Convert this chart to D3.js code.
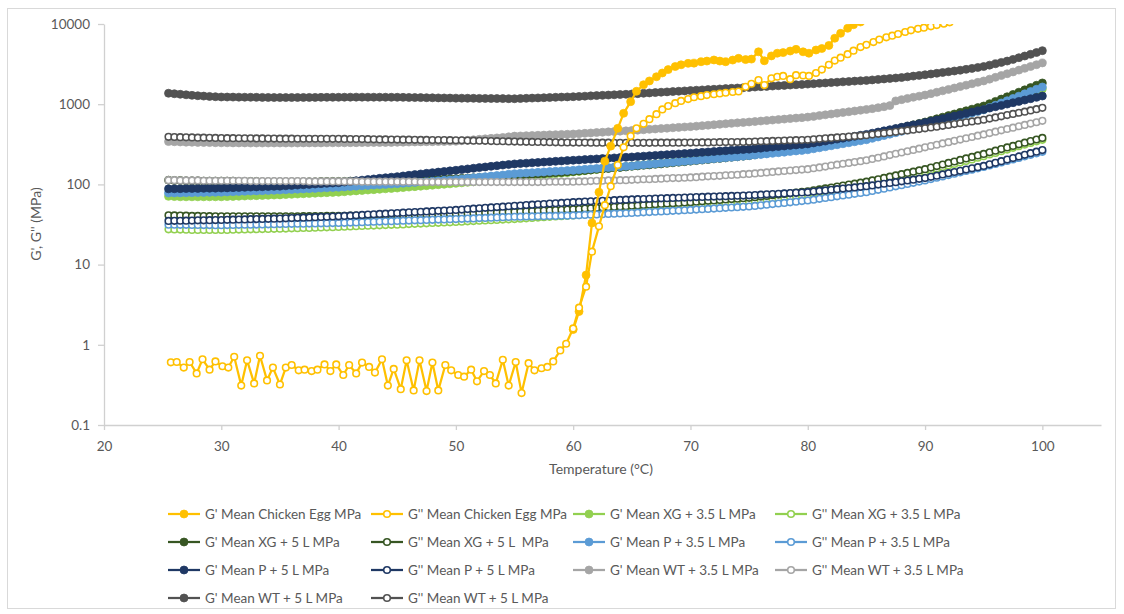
<!DOCTYPE html>
<html>
<head>
<meta charset="utf-8">
<script src="https://cdn.jsdelivr.net/npm/d3@7"></script>
<style>
  body { margin: 0; background: #fff; }
  svg { font-family: Lato, "Open Sans", sans-serif; }
  text { white-space: pre; }
</style>
</head>
<body>
<svg id="chart" width="1124" height="614"></svg>
<script>
// temperatures (°C) for the XG / P / WT runs
const temp = [
  25.5,26,26.5,27,27.5,28,28.5,29,29.5,30,
  30.5,31,31.5,32,32.5,33,33.5,34,34.5,35,
  35.5,36,36.5,37,37.5,38,38.5,39,39.5,40,
  40.5,41,41.5,42,42.5,43,43.5,44,44.5,45,
  45.5,46,46.5,47,47.5,48,48.5,49,49.5,50,
  50.5,51,51.5,52,52.5,53,53.5,54,54.5,55,
  55.5,56,56.5,57,57.5,58,58.5,59,59.5,60,
  60.5,61,61.5,62,62.5,63,63.5,64,64.5,65,
  65.5,66,66.5,67,67.5,68,68.5,69,69.5,70,
  70.5,71,71.5,72,72.5,73,73.5,74,74.5,75,
  75.5,76,76.5,77,77.5,78,78.5,79,79.5,80,
  80.5,81,81.5,82,82.5,83,83.5,84,84.5,85,
  85.5,86,86.5,87,87.5,88,88.5,89,89.5,90,
  90.5,91,91.5,92,92.5,93,93.5,94,94.5,95,
  95.5,96,96.5,97,97.5,98,98.5,99,99.5,100
];

// temperatures (°C) for the chicken egg run
const eggTemp = [
  25.7,26.2,26.8,27.3,27.9,28.4,29.0,29.5,30.1,30.6,
  31.1,31.7,32.2,32.8,33.3,33.9,34.4,35.0,35.5,36.0,
  36.6,37.1,37.7,38.2,38.8,39.3,39.8,40.4,40.9,41.5,
  42.0,42.6,43.1,43.7,44.2,44.7,45.3,45.8,46.4,46.9,
  47.5,48.0,48.5,49.1,49.6,50.2,50.7,51.3,51.8,52.4,
  52.9,53.4,54.0,54.5,55.1,55.6,56.2,56.7,57.3,57.8,
  58.3,58.9,59.4,60.0,60.5,61.1,61.6,62.2,62.7,63.2,
  63.8,64.3,64.9,65.4,66.0,66.5,67.1,67.6,68.1,68.7,
  69.2,69.8,70.3,70.9,71.4,72.0,72.5,73.0,73.6,74.1,
  74.7,75.2,75.8,76.3,76.9,77.4,77.9,78.5,79.0,79.6,
  80.1,80.7,81.2,81.8,82.3,82.8,83.4,83.9,84.5,85.0,
  85.6,86.1,86.7,87.2,87.7,88.3,88.8,89.4,89.9,90.5,
  91.0,91.6,92.1
];

const eggGp = [
  null,null,null,null,null,null,null,null,null,null,
  null,null,null,null,null,null,null,null,null,null,
  null,null,null,null,null,null,null,null,null,null,
  null,null,null,null,null,null,null,null,null,null,
  null,null,null,null,null,null,null,null,null,null,
  null,null,null,null,null,null,null,null,null,null,
  null,null,null,1.55,2.6,7.4,33,80,195,300,
  500,770,1075,1450,1750,1950,2200,2450,2700,2950,
  3100,3230,3250,3380,3450,3560,3450,3380,3550,3730,
  3600,3650,4500,3480,4000,4320,4400,4600,4830,4500,
  4320,4740,4950,5400,6640,7650,8840,9800,10600,null,
  null,null,null,null,null,null,null,null,null,null,
  null,null,null
];

const eggGpp = [
  0.605,0.61,0.52,0.61,0.44,0.66,0.49,0.62,0.54,0.52,
  0.71,0.31,0.64,0.33,0.73,0.36,0.52,0.32,0.52,0.56,
  0.48,0.49,0.47,0.49,0.57,0.47,0.57,0.42,0.56,0.44,
  0.6,0.53,0.45,0.66,0.31,0.5,0.28,0.64,0.27,0.64,
  0.265,0.6,0.27,0.56,0.48,0.42,0.4,0.49,0.35,0.47,
  0.42,0.33,0.65,0.31,0.61,0.25,0.59,0.48,0.51,0.53,
  0.62,0.85,1.03,1.6,2.9,5.3,14.5,30,55,95,
  175,290,400,500,570,650,750,860,950,1030,
  1100,1160,1220,1260,1300,1330,1360,1390,1420,1440,
  1650,1800,2000,1730,2100,2200,2250,2050,2300,2280,
  2250,2450,2700,3100,3500,3800,4200,4650,5150,5500,
  5950,6400,6820,7150,7500,7950,8350,8700,9000,9350,
  9700,10100,10500
];

const xg35Gp = [
  71,70.5,70,70,70,70,70,70,70,70,
  70.4,70.8,71.2,71.6,72,72.4,72.8,73.2,73.6,74,
  74.6,75.2,75.8,76.4,77,77.6,78.2,78.8,79.4,80,
  81,82,83,84,85,86,87,88,89,90,
  91.2,92.5,93.8,95,96.3,97.6,99,100.3,101.6,103,
  104.6,106.2,107.8,109.5,111,112.8,114.5,116.2,118,120,
  122,124,126,129,131,133,136,138,140,143,
  145,148,151,153,156,159,162,164,167,170,
  173,176,178,181,184,187,190,193,197,200,
  203,207,210,213,217,220,224,228,231,235,
  240,245,250,256,261,267,273,278,284,290,
  298,307,315,324,333,342,351,361,375,390,
  405,420,436,453,470,488,506,525,542,560,
  585,610,637,665,694,725,757,790,825,860,
  910,965,1020,1080,1145,1210,1280,1360,1450,1550
];

const xg35Gpp = [
  27.5,27.4,27.3,27.2,27.1,27,27,27,27,27,
  27.1,27.2,27.3,27.4,27.5,27.6,27.7,27.8,27.9,28,
  28.1,28.3,28.4,28.6,28.7,28.9,29,29.2,29.3,29.5,
  29.7,29.9,30.1,30.3,30.5,30.7,30.9,31.1,31.3,31.5,
  31.7,32,32.2,32.5,32.7,33,33.2,33.5,33.7,34,
  34.3,34.6,34.9,35.2,35.5,35.8,36.1,36.4,36.7,37,
  37.4,37.8,38.2,38.6,39,39.4,39.8,40.2,40.6,41,
  41.5,42,42.5,43,43.5,44,44.5,45,45.5,46,
  46.6,47.2,47.8,48.4,49,49.6,50.2,50.8,51.4,52,
  52.8,53.6,54.4,55.2,56,56.8,57.6,58.4,59.2,60,
  61.3,62.6,64,65.4,66.9,68.4,70,71.6,73.3,75,
  77.3,79.7,82.1,84.6,87.2,89.9,92.7,95.6,98.7,102,
  105.5,109,112.7,116.5,120.5,124.6,128.8,133.2,139,145,
  151,158,165,172,180,188,196,205,215,225,
  236,247,259,272,286,300,314,329,344,360
];

const xg5Gp = [
  113,112,112,111,111,111,110,110,110,110,
  110,110,109,109,109,109,108,108,108,108,
  108,108,108,108,108,108,109,109,109,109,
  109,110,110,110,111,111,111,111,112,112,
  113,113,114,114,115,115,116,117,117,118,
  119,120,121,122,123,124,125,126,127,128,
  130,131,133,135,136,138,140,141,143,145,
  147,149,151,154,156,158,161,163,165,168,
  170,173,175,178,180,183,186,189,192,195,
  198,201,204,208,211,214,218,221,225,228,
  234,240,246,252,258,264,270,277,283,290,
  300,310,320,330,341,352,363,375,387,400,
  417,434,452,470,490,510,531,553,576,600,
  628,658,689,721,755,791,828,867,907,950,
  1015,1084,1158,1238,1322,1413,1509,1612,1723,1840
];

const xg5Gpp = [
  41.2,41,40.9,40.7,40.5,40.4,40.3,40.2,40.1,40,
  40,40,40,40,40,40,40,40,40,40,
  40,40.1,40.1,40.2,40.2,40.3,40.3,40.4,40.4,40.5,
  40.6,40.7,40.8,40.9,41,41.1,41.2,41.3,41.4,41.5,
  41.6,41.8,41.9,42.1,42.2,42.4,42.5,42.7,42.8,43,
  43.2,43.5,43.7,44,44.2,44.5,44.7,45,45.2,45.5,
  45.8,46.2,46.5,46.9,47.2,47.6,47.9,48.3,48.6,49,
  49.5,50,50.5,51,51.5,52,52.5,53,53.5,54,
  54.6,55.2,55.8,56.4,57,57.6,58.2,58.8,59.4,60,
  60.8,61.6,62.4,63.2,64,64.8,65.6,66.4,67.2,68,
  69.3,70.6,71.9,73.3,74.7,76.1,77.5,79,80.5,82,
  84.3,86.6,89,91.5,94.1,96.7,99.4,102.2,105,108,
  112,116,120.4,124.8,129.4,134.2,139.1,144.2,149.5,155,
  162,169,177,185,193,202,211,220,230,240,
  251,263,276,289,302,316,331,347,363,380
];

const p35Gp = [
  78,78.2,78.4,78.7,78.9,79.1,79.3,79.6,79.8,80,
  80.5,81,81.5,82,82.5,83,83.5,84,84.5,85,
  85.7,86.4,87.1,87.8,88.5,89.2,89.9,90.6,91.3,92,
  93,94,95,96,97,98,99,100,101,102,
  103.3,104.6,105.9,107.2,108.5,109.8,111.1,112.4,113.7,115,
  117,119,121,123,125,127,129,131,134,136,
  137.4,138.8,140.2,141.6,143,144.4,145.8,147.2,148.6,150,
  152,154,156,158,160,162,164,166,168,170,
  172.7,175.4,178.1,180.8,183.5,186.2,188.9,191.6,194.3,197,
  200,203,206,209,212,215,218,221,225,228,
  232,236,240,244,248,252,257,261,265,270,
  278,286,294,303,312,321,330,340,350,360,
  375,390,406,423,441,459,478,497,518,540,
  565,591,619,647,677,709,742,776,812,850,
  908,969,1035,1105,1180,1260,1346,1437,1535,1640
];

const p35Gpp = [
  31.5,31.4,31.3,31.3,31.2,31.2,31.1,31.1,31,31,
  31.1,31.2,31.3,31.4,31.5,31.6,31.7,31.8,31.9,32,
  32.1,32.2,32.3,32.4,32.5,32.6,32.7,32.8,32.9,33,
  33.2,33.4,33.6,33.8,34,34.2,34.4,34.6,34.8,35,
  35.2,35.4,35.6,35.8,36,36.2,36.4,36.6,36.8,37,
  37.2,37.5,37.7,38,38.2,38.5,38.7,39,39.2,39.5,
  39.6,39.8,39.9,40.1,40.2,40.4,40.5,40.7,40.8,41,
  41.3,41.6,41.9,42.2,42.5,42.8,43.1,43.4,43.7,44,
  44.4,44.8,45.2,45.6,46,46.4,46.8,47.2,47.6,48,
  48.5,49,49.5,50,50.5,51,51.5,52,52.5,53,
  53.9,54.9,55.8,56.8,57.8,58.8,59.8,60.9,61.9,63,
  64.5,66.1,67.7,69.3,71,72.7,74.5,76.3,78.1,80,
  82.7,85.6,88.5,91.5,94.6,97.9,101.2,104.7,108.3,112,
  116.4,121,125.8,130.8,136,141.3,146.9,152.7,158.7,165,
  172,180,188,196,205,214,224,234,244,255
];

const p5Gp = [
  88,88.2,88.4,88.7,88.9,89.1,89.3,89.6,89.8,90,
  90.5,91,91.5,92,92.5,93,93.5,94,94.5,95,
  96,97,98,99,100,101,102,103,104,105,
  107,109,111,113,115,117,119,121,123,125,
  127.5,130,132.5,135,137.5,140,142.5,145,147.5,150,
  153,156,159,162,165,168,171,174,177,180,
  182,184,186,188,190,192,194,196,198,200,
  202,204,206,208,210,212,214,216,218,220,
  222.5,225,227.5,230,232.5,235,237.5,240,242.5,245,
  248,251,254,257,260,263,266,269,272,275,
  279,283,288,292,297,301,306,310,315,320,
  329,338,347,357,367,377,387,398,409,420,
  435,450,465,481,498,515,533,551,570,590,
  613,636,660,686,712,739,768,797,828,860,
  894,929,965,1003,1043,1084,1126,1171,1217,1265
];

const p5Gpp = [
  35,35.1,35.2,35.3,35.4,35.6,35.7,35.8,35.9,36,
  36.2,36.3,36.5,36.6,36.8,36.9,37.1,37.2,37.4,37.5,
  37.8,38,38.3,38.5,38.8,39,39.3,39.5,39.8,40,
  40.4,40.8,41.2,41.6,42,42.4,42.8,43.2,43.6,44,
  44.4,44.8,45.2,45.6,46,46.4,46.8,47.2,47.6,48,
  48.6,49.2,49.8,50.4,51,51.6,52.2,52.8,53.4,54,
  54.6,55.2,55.8,56.4,57,57.6,58.2,58.8,59.4,60,
  60.5,61,61.5,62,62.5,63,63.5,64,64.5,65,
  65.4,65.8,66.2,66.6,67,67.4,67.8,68.2,68.6,69,
  69.4,69.8,70.2,70.6,71,71.4,71.8,72.2,72.6,73,
  73.7,74.4,75.1,75.8,76.5,77.2,77.9,78.6,79.3,80,
  81.4,82.8,84.2,85.7,87.2,88.7,90.2,91.8,93.4,95,
  97.2,99.5,101.9,104.3,106.7,109.2,111.8,114.5,117.2,120,
  124.2,128.6,133.2,137.9,142.8,147.8,153,158.5,164.1,170,
  178,186,195,204,213,223,234,245,256,268
];

const wt35Gp = [
  342,340,338,336,335,334,333,332,331,330,
  330,329,329,329,328,328,328,328,328,328,
  328,328,328,329,329,329,329,330,330,330,
  330,331,331,332,332,333,333,334,334,335,
  336,337,338,339,340,341,342,343,344,345,
  350,355,360,365,370,375,380,385,392,400,
  402,405,407,410,412,415,417,420,422,425,
  429,434,438,443,447,452,456,461,465,470,
  475,480,486,491,497,502,508,514,520,525,
  532,540,547,555,562,570,577,585,592,600,
  608,617,625,634,643,652,661,671,680,690,
  705,721,737,754,771,788,805,823,841,860,
  880,905,930,960,1100,1140,1180,1220,1260,1300,
  1354,1410,1468,1529,1592,1658,1727,1798,1873,1950,
  2054,2163,2278,2398,2526,2660,2801,2950,3106,3270
];

const wt35Gpp = [
  113,113,112,112,112,112,111,111,111,111,
  111,111,111,111,110,110,110,110,110,110,
  110,110,110,110,109,109,109,109,109,109,
  109,109,109,108,108,108,108,108,108,108,
  108,108,108,107,107,107,107,107,107,107,
  107,107,107,107,107,107,107,107,107,107,
  107,107,107,107,107,108,108,108,108,108,
  109,109,110,111,111,112,112,113,113,114,
  115,116,116,117,118,119,120,120,121,122,
  123,125,126,127,128,130,131,132,134,135,
  137,139,141,143,145,147,149,151,153,155,
  159,163,167,172,176,181,185,190,195,200,
  208,215,223,232,241,250,259,269,279,290,
  301,312,324,336,349,362,376,390,405,420,
  437,454,472,491,510,531,552,574,596,620
];

const wt5Gp = [
  1370,1350,1330,1310,1290,1275,1262,1250,1240,1230,
  1228,1226,1224,1222,1220,1218,1216,1214,1212,1210,
  1211,1212,1213,1214,1215,1216,1217,1218,1219,1220,
  1222,1224,1225,1224,1223,1222,1222,1221,1220,1220,
  1217,1214,1211,1208,1205,1202,1199,1196,1193,1190,
  1188,1186,1184,1182,1180,1178,1176,1174,1172,1170,
  1177,1184,1191,1198,1205,1212,1219,1226,1233,1240,
  1250,1260,1270,1280,1290,1300,1310,1320,1330,1340,
  1354,1368,1382,1396,1410,1424,1438,1452,1466,1480,
  1494,1508,1522,1536,1550,1564,1578,1592,1606,1620,
  1636,1652,1668,1684,1700,1716,1732,1748,1764,1780,
  1800,1820,1840,1860,1880,1900,1920,1940,1960,1980,
  2008,2036,2064,2093,2121,2150,2195,2240,2285,2330,
  2380,2430,2485,2540,2595,2650,2720,2795,2870,2950,
  3070,3190,3320,3450,3620,3800,3990,4190,4410,4650
];

const wt5Gpp = [
  392,390,388,386,385,383,382,381,380,378,
  377,377,376,376,375,374,374,373,373,372,
  372,372,371,371,371,371,371,370,370,370,
  369,368,368,367,366,365,364,364,363,362,
  361,361,360,359,359,358,357,357,356,355,
  354,352,351,350,349,347,346,345,343,342,
  341,340,339,338,337,336,335,334,333,332,
  332,332,331,331,331,331,330,330,330,330,
  330,330,330,331,331,331,331,331,332,332,
  333,334,334,335,336,337,337,338,339,340,
  342,344,346,348,350,352,354,356,358,360,
  365,370,375,380,385,390,395,400,405,410,
  418,427,435,444,453,462,471,481,490,500,
  513,525,538,552,565,580,594,609,624,640,
  662,684,707,731,756,782,808,836,867,900
];

const seriesNames = [
  "G' Mean Chicken Egg MPa", "G'' Mean Chicken Egg MPa",
  "G' Mean XG + 3.5 L MPa", "G'' Mean XG + 3.5 L MPa",
  "G' Mean XG + 5 L MPa", "G'' Mean XG + 5 L  MPa",
  "G' Mean P + 3.5 L MPa", "G'' Mean P + 3.5 L MPa",
  "G' Mean P + 5 L MPa", "G'' Mean P + 5 L MPa",
  "G' Mean WT + 3.5 L MPa", "G'' Mean WT + 3.5 L MPa",
  "G' Mean WT + 5 L MPa", "G'' Mean WT + 5 L MPa"
];
const seriesValues = [eggGp, eggGpp, xg35Gp, xg35Gpp, xg5Gp, xg5Gpp, p35Gp, p35Gpp,
                      p5Gp, p5Gpp, wt35Gp, wt35Gpp, wt5Gp, wt5Gpp];
const seriesTemps = [eggTemp, eggTemp, temp, temp, temp, temp, temp, temp,
                     temp, temp, temp, temp, temp, temp];
const xTicks = [20, 30, 40, 50, 60, 70, 80, 90, 100];
const yTicks = [0.1, 1, 10, 100, 1000, 10000];

// styling
const colors = ['#FFC000','#FFC000','#92D050','#92D050','#375623','#375623','#5B9BD5','#5B9BD5',
                '#1F3864','#1F3864','#A5A5A5','#A5A5A5','#525252','#525252'];
const textColor = '#595959';
const axisColor = '#D0D0D0';

const series = seriesNames.map((name, i) => ({
  name,
  color: colors[i],
  filled: i % 2 === 0,
  points: seriesTemps[i].map((t, j) => ({ t, v: seriesValues[i][j] }))
}));

// marker look: filled for G', white-centred ring for G''
const marker = sel => sel
  .attr('r', d => 0)
  .each(function () {
    const s = d3.select(this.parentNode).datum();
    d3.select(this)
      .attr('r', s.filled ? 4 : 3.3)
      .attr('fill', s.filled ? s.color : '#fff')
      .attr('stroke', s.color)
      .attr('stroke-width', s.filled ? 0.75 : 1.6);
  });

const svg = d3.select('#chart');

// outer frame
svg.append('rect')
  .attr('x', 7.5).attr('y', 8.5)
  .attr('width', 1108).attr('height', 600)
  .attr('fill', 'none').attr('stroke', '#D9D9D9');

const x = d3.scaleLinear().domain([20, 105]).range([104, 1101]);
const y = d3.scaleLog().domain([0.1, 10000]).range([425, 24]);

// axes
const xAxis = svg.append('g')
  .attr('transform', 'translate(0,425)')
  .call(d3.axisBottom(x).tickValues(xTicks).tickSize(5).tickSizeOuter(0).tickPadding(11));
const yAxis = svg.append('g')
  .attr('transform', 'translate(104,0)')
  .call(d3.axisLeft(y).tickValues(yTicks).tickFormat(d => String(d)).tickSize(6).tickSizeOuter(0).tickPadding(8));

[xAxis, yAxis].forEach(a => {
  a.select('.domain').attr('stroke', axisColor).attr('stroke-width', 1.3);
  a.selectAll('.tick line').attr('stroke', axisColor).attr('stroke-width', 1.3);
  a.selectAll('.tick text')
    .attr('fill', textColor)
    .style('font-size', '13.5px')
    .style('font-family', 'Lato, "Open Sans", sans-serif');
});

// axis titles
svg.append('text')
  .attr('x', 601).attr('y', 474)
  .attr('text-anchor', 'middle')
  .attr('fill', textColor)
  .style('font-size', '14px')
  .text('Temperature (°C)');

svg.append('text')
  .attr('transform', 'translate(41,224) rotate(-90)')
  .attr('text-anchor', 'middle')
  .attr('fill', textColor)
  .style('font-size', '14px')
  .text("G', G'' (MPa)");

// plot area clip
svg.append('clipPath').attr('id', 'plotClip')
  .append('rect').attr('x', 96).attr('y', 24).attr('width', 1015).attr('height', 410);

const line = d3.line()
  .defined(d => d.v != null)
  .x(d => x(d.t))
  .y(d => y(d.v));

const plot = svg.append('g').attr('clip-path', 'url(#plotClip)');

// egg series are drawn last so they sit on top
const drawOrder = series.slice(2).concat(series.slice(0, 2));

drawOrder.forEach(s => {
  const g = plot.append('g').datum(s);
  g.append('path')
    .attr('d', line(s.points))
    .attr('fill', 'none')
    .attr('stroke', s.color)
    .attr('stroke-width', 2.25)
    .attr('stroke-linejoin', 'round');
  g.selectAll('circle')
    .data(s.points.filter(d => d.v != null))
    .enter()
    .append('circle')
    .attr('cx', d => x(d.t))
    .attr('cy', d => y(d.v))
    .call(marker);
});

// legend
const legendCols = [168, 371, 573, 775];
const legendRows = [514, 542, 570, 598];

const legend = svg.append('g');
series.forEach((s, i) => {
  const lx = legendCols[i % 4];
  const ly = legendRows[Math.floor(i / 4)];
  const item = legend.append('g').datum(s).attr('transform', `translate(${lx},${ly})`);
  item.append('line')
    .attr('x1', 0).attr('x2', 32).attr('y1', 0).attr('y2', 0)
    .attr('stroke', s.color).attr('stroke-width', 2.25);
  item.append('circle')
    .attr('cx', 16).attr('cy', 0)
    .call(marker);
  item.append('text')
    .attr('x', 37).attr('y', 0)
    .attr('dy', '0.35em')
    .attr('fill', textColor)
    .style('font-size', '13.5px')
    .text(s.name);
});
</script>
</body>
</html>
